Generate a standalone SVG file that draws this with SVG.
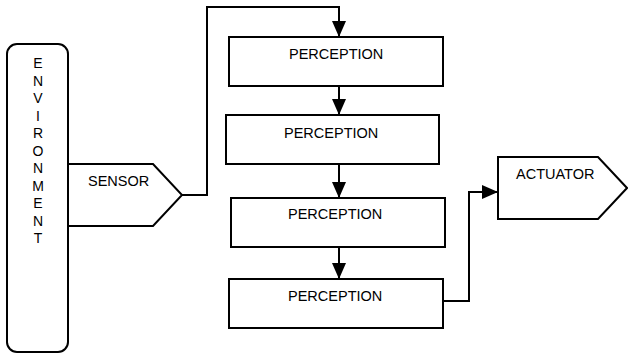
<svg xmlns="http://www.w3.org/2000/svg" width="628" height="358" viewBox="0 0 628 358">
<style>
.shape{fill:#fff;stroke:#000;stroke-width:2}
.lbl{font-family:"Liberation Sans",Arial,sans-serif;font-size:14.5px;fill:#000}
.env{font-family:"Liberation Sans",Arial,sans-serif;font-size:14px;fill:#000;text-anchor:middle}
.conn{fill:none;stroke:#000;stroke-width:2}
</style>
<defs>
<marker id="arr" viewBox="0 0 16 14" markerWidth="16" markerHeight="14" refX="16" refY="7" orient="auto" markerUnits="userSpaceOnUse">
<path d="M0,0 L16,7 L0,14 z" fill="#000"/>
</marker>
</defs>
<rect width="628" height="358" fill="#fff"/>
<g id="sensor">
<polygon class="shape" points="60,164 153,164 182,195 153,226 60,226"/>
<text class="lbl" x="88" y="186">SENSOR</text>
</g>
<g id="environment">
<rect class="shape" x="7" y="44" width="61" height="308" rx="10" ry="10"/>
<text class="env" x="38" y="68">E</text>
<text class="env" x="38" y="85.5">N</text>
<text class="env" x="38" y="103">V</text>
<text class="env" x="38" y="120.5">I</text>
<text class="env" x="38" y="138">R</text>
<text class="env" x="38" y="155.5">O</text>
<text class="env" x="38" y="173">N</text>
<text class="env" x="38" y="190.5">M</text>
<text class="env" x="38" y="208">E</text>
<text class="env" x="38" y="225.5">N</text>
<text class="env" x="38" y="243">T</text>
</g>
<g id="perception1">
<rect class="shape" x="229" y="37" width="214" height="49"/>
<text class="lbl" x="289" y="59">PERCEPTION</text>
</g>
<g id="perception2">
<rect class="shape" x="226" y="115" width="213" height="49"/>
<text class="lbl" x="284" y="138">PERCEPTION</text>
</g>
<g id="perception3">
<rect class="shape" x="231" y="198" width="214" height="49"/>
<text class="lbl" x="288" y="219">PERCEPTION</text>
</g>
<g id="perception4">
<rect class="shape" x="229" y="279" width="214" height="49"/>
<text class="lbl" x="288" y="301">PERCEPTION</text>
</g>
<g id="actuator">
<polygon class="shape" points="498,157 598,157 627,188 598,219 498,219"/>
<text class="lbl" x="516" y="179">ACTUATOR</text>
</g>
<g id="connectors">
<polyline class="conn" points="182,195 207,195 207,7 339,7 339,37" marker-end="url(#arr)"/>
<line class="conn" x1="339" y1="86" x2="339" y2="115" marker-end="url(#arr)"/>
<line class="conn" x1="339" y1="164" x2="339" y2="198" marker-end="url(#arr)"/>
<line class="conn" x1="339" y1="247" x2="339" y2="279" marker-end="url(#arr)"/>
<polyline class="conn" points="443,301 469,301 469,192 498,192" marker-end="url(#arr)"/>
</g>
</svg>
